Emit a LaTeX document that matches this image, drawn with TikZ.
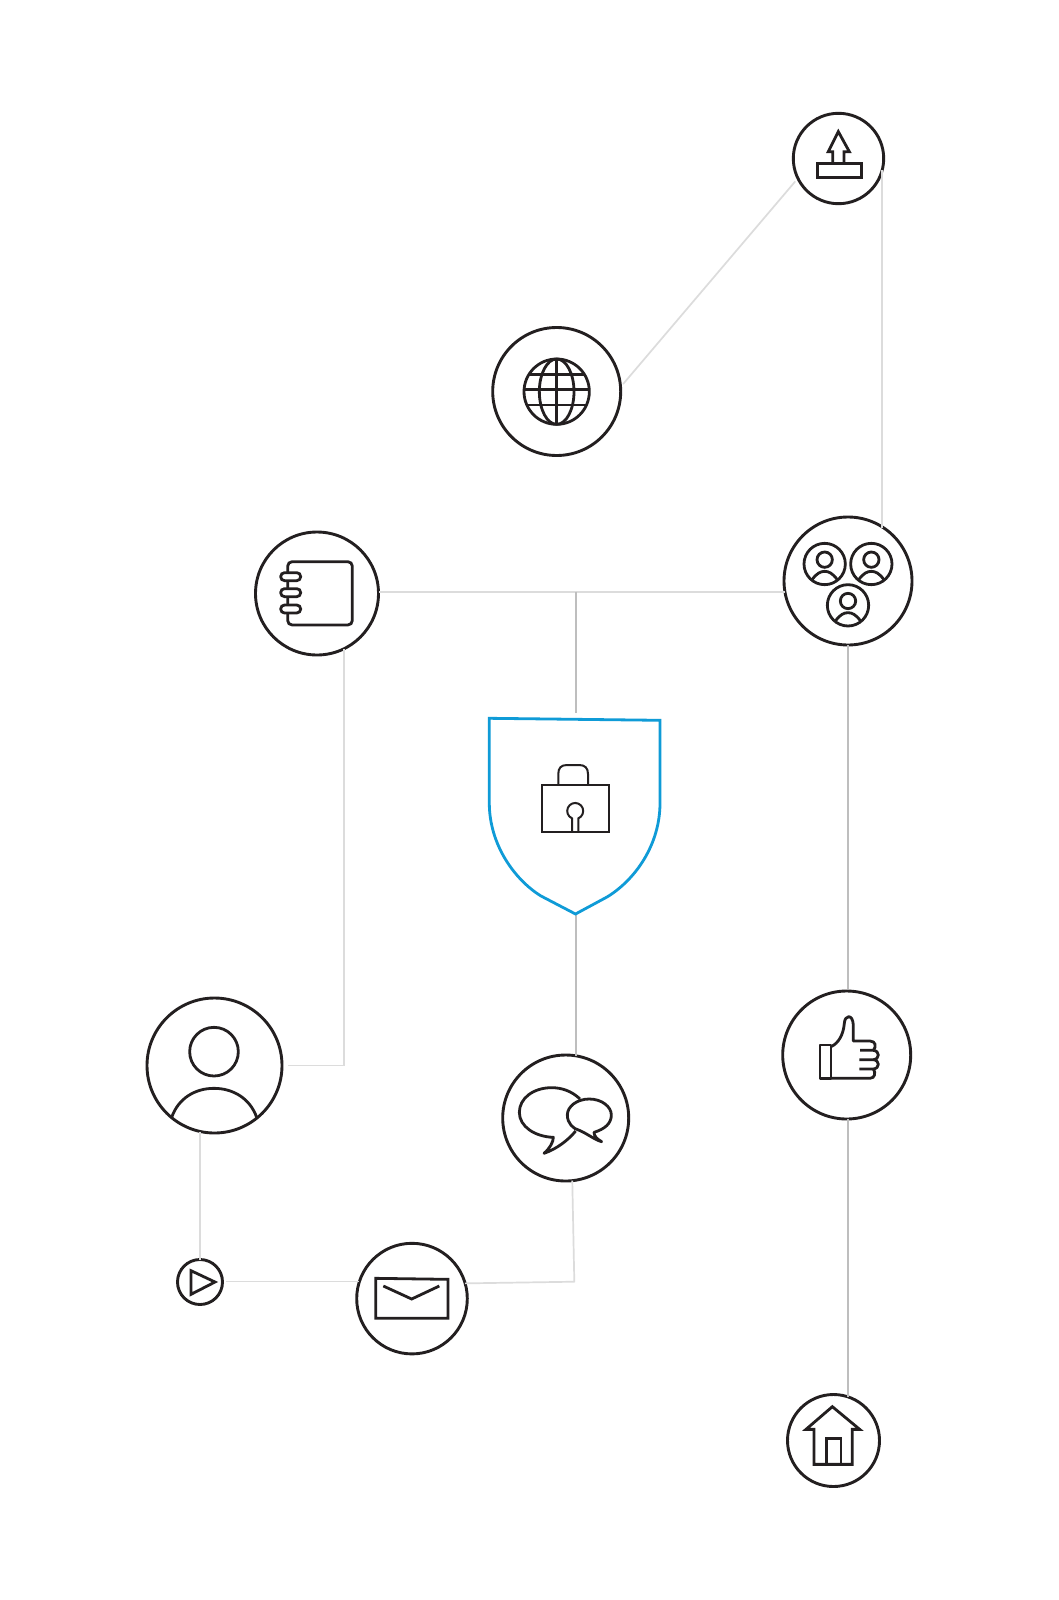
\documentclass[tikz,border=0pt]{standalone}
\definecolor{ink}{HTML}{231F20}
\definecolor{linkpale}{HTML}{DCDCDC}
\definecolor{linkmid}{HTML}{BEBEBE}
\definecolor{shieldblue}{HTML}{0F9BD7}
\tikzset{
  ring/.style={circle,draw=ink,line width=2.9pt,inner sep=0pt,outer sep=0pt,minimum size=#1},
  iconline/.style={draw=ink,line width=2.8pt,line join=miter},
  thinicon/.style={draw=ink,line width=2pt,line join=miter},
  palelink/.style={draw=linkpale,line width=1.7pt},
  midlink/.style={draw=linkmid,line width=2pt},
  zoomed/.style={shift={#1},scale=0.33333}
}
\begin{document}
\begin{tikzpicture}[x=1pt,y=-1pt]
\useasboundingbox (0,0) rectangle (1059,1600);
\fill[white] (0,0) rectangle (1059,1600);

% rings
\node[ring=90.4pt] (upload) at (838.5,158.5) {};
\node[ring=128pt] (globe) at (556.7,391.5) {};
\node[ring=128pt] (team) at (848,581) {};
\node[ring=123pt] (notebook) at (317,593.5) {};
\node[ring=128pt] (like) at (846.7,1055) {};
\node[ring=126pt] (chat) at (565.7,1118) {};
\node[ring=135pt] (person) at (214.5,1065.5) {};
\node[ring=45pt] (play) at (200,1282) {};
\node[ring=110.6pt] (mail) at (412,1298.6) {};
\node[ring=92pt] (house) at (833.5,1440.5) {};

\coordinate (junction) at (575.5,591.5);
\coordinate (shieldtop) at (575.5,713);
\coordinate (shieldtip) at (575.5,914);
\coordinate (mailcorner) at (574.3,1281.7);

% connectors
\draw[palelink,shorten <=4pt,shorten >=4pt] (globe.4) -- (upload.206);
\draw[palelink] (upload.-15) -- (upload.-15 |- team.56);
\draw[palelink] (team.190) -- (team.190 -| notebook.east);
\draw[midlink] (junction) -- (shieldtop);
\draw[palelink,shorten >=5.5pt] (notebook.-64) |- (person.east);
\draw[midlink,shorten >=2pt] (team.south) -- (team.south |- like.north);
\draw[midlink] (team.south |- like.south) -- (team.south |- house.70);
\draw[midlink] (shieldtip) -- (shieldtip |- chat.82);
\draw[palelink,line join=round] (chat.-84) -- (mailcorner) -- (mail.16);
\draw[palelink] (play.north |- person.-102) -- (play.north);
\draw[palelink,shorten <=3pt] (mail.162 -| play.east) -- (mail.162);

% shield
\draw[draw=shieldblue,line width=2.8pt,line join=miter]
  (489.3,718.3) -- (660,720.3) -- (660,803)
  .. controls (660,845) and (635,880) .. (607,897)
  -- (shieldtip) -- (541,896)
  .. controls (515,880) and (489.3,845) .. (489.3,803) -- cycle;

% lock
\draw[thinicon] (542,785) rectangle (609,832);
\draw[thinicon] (558.3,785) -- (558.3,774) .. controls (558.3,768) and (561,765) .. (567,765)
  -- (579,765) .. controls (585,765) and (588,768) .. (588,774) -- (588,785);
\draw[thinicon] (572,832) -- (572,818.3) arc[start angle=113.6,end angle=426.4,radius=8] -- (578.4,832);

% upload icon
\begin{scope}[zoomed={(760,100)}]
\draw[iconline] (172,190) rectangle (305,232);
\draw[iconline] (218,190) -- (218,155) -- (205,155) -- (235,95) -- (268,155) -- (252,155) -- (252,190);
\end{scope}

% globe icon
\begin{scope}[zoomed={(475,315)}]
\draw[iconline] (245,230) circle[radius=98];
\draw[iconline] (245,230) ellipse[x radius=52,y radius=98];
\draw[iconline] (245,132) -- (245,328);
\draw[iconline] (162,178) -- (328,178) (147,224) -- (343,224) (155.5,270) -- (334.5,270);
\end{scope}

% team icon
\begin{scope}[zoomed={(760,500)}]
\foreach \cx/\cy in {194/192,334/192,264/316}{
  \draw[iconline] (\cx,\cy) circle[radius=62];
  \draw[iconline] (\cx,\cy-13) circle[radius=23];
  \draw[iconline] (\cx-37,\cy+46) .. controls (\cx-24,\cy+28) and (\cx-12,\cy+22) .. (\cx,\cy+22)
     .. controls (\cx+12,\cy+22) and (\cx+24,\cy+28) .. (\cx+37,\cy+46);
}
\end{scope}

% notebook icon
\begin{scope}[zoomed={(240,510)}]
\draw[iconline,rounded corners=4.5pt] (143,155) rectangle (337,345);
\foreach \py in {200,248,297}{
  \draw[iconline,fill=white,rounded corners=3.9pt] (122,\py-12) rectangle (182,\py+12);
}
\end{scope}

% thumb icon
\begin{scope}[zoomed={(760,965)}]
\draw[iconline,line join=round] (180,240) rectangle (213,340);
\draw[iconline,line join=round] (213,245) .. controls (235,235) and (250,210) .. (253,175)
  .. controls (254,150) and (278,145) .. (280,180) -- (280,228) -- (330,228)
  .. controls (347,228) and (350,245) .. (340,256) -- (300,256)
  (340,256) .. controls (360,258) and (360,282) .. (340,284) -- (298,284)
  (340,284) .. controls (360,286) and (360,310) .. (340,312) -- (298,312)
  (340,312) .. controls (348,322) and (345,340) .. (330,340) -- (213,340);
\end{scope}

% chat icon
\begin{scope}[zoomed={(485,1025)}]
\draw[iconline,line join=round] (285,222) .. controls (260,198) and (230,188) .. (200,188)
  .. controls (145,188) and (103,220) .. (103,262)
  .. controls (103,305) and (150,335) .. (205,337)
  .. controls (205,350) and (195,370) .. (177,385)
  .. controls (215,372) and (250,345) .. (272,318);
\draw[iconline,line join=round] (327,322) .. controls (360,312) and (379,295) .. (379,270)
  .. controls (379,245) and (350,222) .. (313,222)
  .. controls (275,222) and (247,245) .. (247,270)
  .. controls (247,295) and (265,312) .. (283,316)
  .. controls (305,325) and (330,345) .. (350,350)
  .. controls (335,342) and (327,332) .. (327,322) -- cycle;
\end{scope}

% person icon
\begin{scope}[zoomed={(135,990)}]
\draw[iconline] (237,185) circle[radius=73];
\draw[iconline] (110,382) .. controls (130,325) and (180,295) .. (237,295)
  .. controls (294,295) and (345,325) .. (365,382);
\end{scope}

% play and mail icons
\begin{scope}[zoomed={(160,1210)}]
\draw[iconline] (93,182) -- (165,216) -- (93,253) -- cycle;
\draw[iconline] (647,205) -- (864,208) -- (864,325) -- (647,325) -- cycle;
\draw[iconline] (670,228) -- (755,267) -- (838,228);
\end{scope}

% house icon
\begin{scope}[zoomed={(770,1385)}]
\draw[iconline] (187,65) -- (108,133) -- (132,133) -- (132,238) -- (247,238) -- (247,133) -- (269,133) -- cycle;
\draw[iconline] (170,238) -- (170,160) -- (213,160) -- (213,238);
\end{scope}
\end{tikzpicture}
\end{document}
